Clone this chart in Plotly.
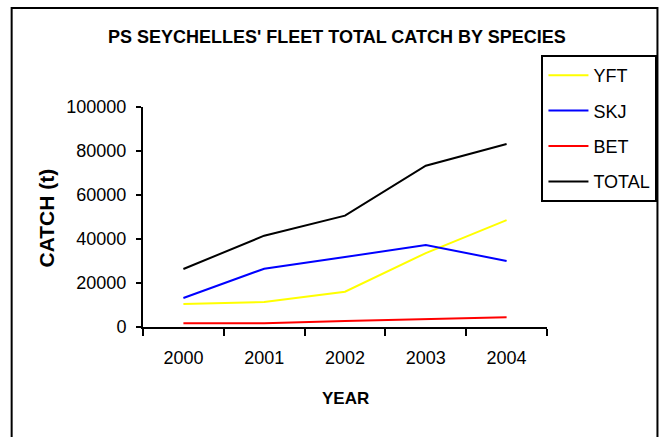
import plotly.graph_objects as go

# Purse-seine catch (tonnes) by species, Seychelles fleet
years = ["2000", "2001", "2002", "2003", "2004"]
yft = [10450, 11360, 16060, 33600, 48600]
skj = [13200, 26500, 31800, 37300, 30000]
bet = [1670, 1670, 2700, 3640, 4400]
total = [26360, 41500, 50600, 73300, 83200]

series = [
    ("YFT", yft, "#FFFF00"),
    ("SKJ", skj, "#0000FF"),
    ("BET", bet, "#FF0000"),
    ("TOTAL", total, "#000000"),
]

W, H = 670, 437
L, R, T, B = 143, 121, 107, 110
pw, ph = W - L - R, H - T - B


def px_x(x):
    return (x - L) / pw


def px_y(y):
    return (H - B - y) / ph


fig = go.Figure()
for name, vals, color in series:
    fig.add_trace(go.Scatter(
        x=years, y=vals, name=name, mode="lines",
        line=dict(color=color, width=2),
        legendgroup=name,
    ))

font = "Liberation Sans, Arial, sans-serif"

fig.update_layout(
    width=W, height=H,
    margin=dict(l=L, r=R, t=T, b=B),
    paper_bgcolor="white", plot_bgcolor="white",
    font=dict(family=font, color="black", size=18),
    showlegend=True,
    legend=dict(
        x=px_x(660), y=px_y(55), xanchor="right", yanchor="top",
        bordercolor="black", borderwidth=2, bgcolor="white",
        font=dict(size=18, family=font),
        tracegroupgap=9, itemwidth=40,
    ),
    xaxis=dict(
        type="category", range=[-0.5, 4.5], tickson="boundaries",
        ticks="outside", ticklen=7, tickwidth=2, tickcolor="black",
        showline=True, linecolor="black", linewidth=2,
        showgrid=False, zeroline=False, ticklabelstandoff=13,
        tickfont=dict(size=18),
    ),
    yaxis=dict(
        range=[0, 100000], dtick=20000, tickformat="d",
        ticks="outside", ticklen=5, tickwidth=2, tickcolor="black",
        showline=True, linecolor="black", linewidth=2,
        showgrid=False, zeroline=False, ticklabelstandoff=6,
        tickfont=dict(size=18),
    ),
    shapes=[dict(
        type="rect", xref="paper", yref="paper",
        x0=px_x(11), x1=px_x(660), y0=px_y(460), y1=px_y(8),
        line=dict(color="black", width=2), fillcolor="rgba(0,0,0,0)",
        layer="below",
    )],
    annotations=[
        dict(text="<b>PS SEYCHELLES' FLEET TOTAL CATCH BY SPECIES</b>",
             xref="paper", yref="paper", x=px_x(338), y=px_y(37),
             xanchor="center", yanchor="middle", showarrow=False,
             font=dict(size=18, family=font)),
        dict(text="<b>YEAR</b>",
             xref="paper", yref="paper", x=px_x(347), y=px_y(398),
             xanchor="center", yanchor="middle", showarrow=False,
             font=dict(size=17, family=font)),
        dict(text="<b>CATCH (t)</b>", textangle=-90,
             xref="paper", yref="paper", x=px_x(46), y=px_y(218),
             xanchor="center", yanchor="middle", showarrow=False,
             font=dict(size=21, family=font)),
    ],
)

fig.write_html("out.html")
